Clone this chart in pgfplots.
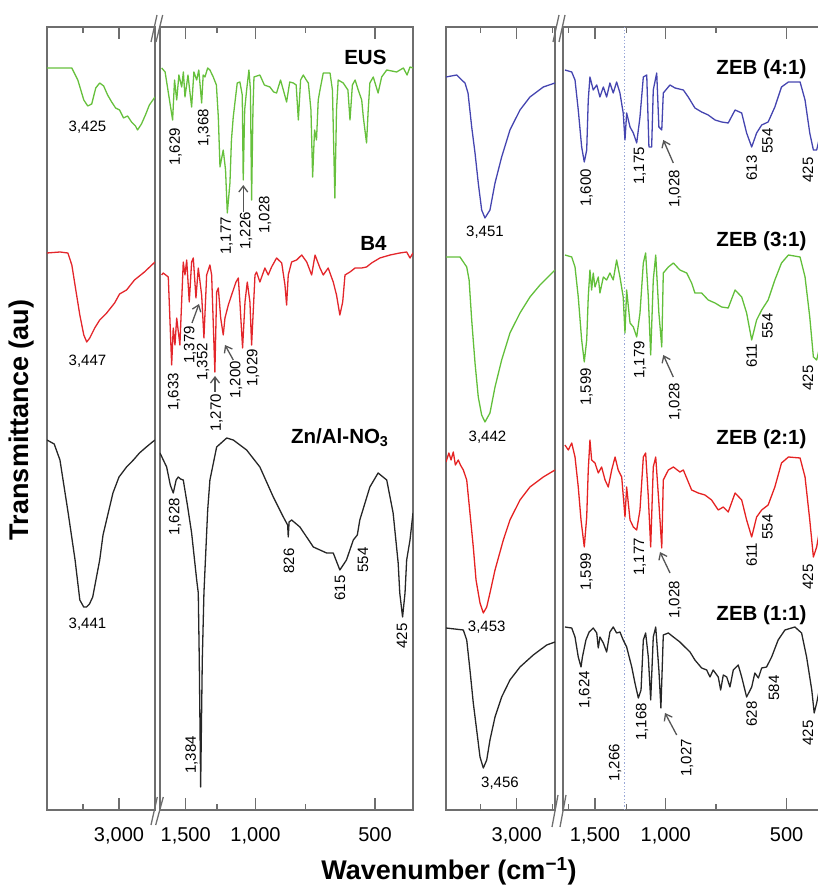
\documentclass[border=0pt]{standalone}
\usepackage{fontspec}
\setmainfont{Liberation Sans}
\usepackage{pgfplots}
\pgfplotsset{compat=1.18}
\usetikzlibrary{arrows.meta}
\definecolor{framegray}{HTML}{6E6E6E}
\definecolor{arrowgray}{HTML}{555555}
\definecolor{eusgreen}{HTML}{66C03C}
\definecolor{bred}{HTML}{E3262B}
\definecolor{specblack}{HTML}{262626}
\definecolor{zblue}{HTML}{4545B0}
\definecolor{zgreen}{HTML}{62BF3A}
\definecolor{zred}{HTML}{E52222}
\definecolor{dotblue}{HTML}{9AA8D8}
\pgfplotsset{
  ftir/.style={
    scale only axis, anchor=south west, height=783pt,
    ymin=0, ymax=783, ytick=\empty, x dir=reverse,
    axis line style={framegray, line width=1.6pt},
    tick style={framegray, line width=1.2pt},
    major tick length=12pt, minor tick length=6pt,
    xtick pos=both,
    xticklabel style={font=\fontsize{20}{24}\selectfont, yshift=-14pt},
    every axis plot/.append style={line width=1.3pt, line join=round},
  }
}
\tikzset{
  pk/.style={font=\fontsize{15}{18}\selectfont},
  pkr/.style={font=\fontsize{15}{18}\selectfont, rotate=90},
  ttl/.style={font=\fontsize{20.5}{24}\selectfont\bfseries, anchor=east},
  arr/.style={arrowgray, line width=1.3pt, -{Straight Barb[length=6pt,width=9pt]}},
  brk/.style={framegray, line width=1.3pt},
}
\begin{document}
\begin{tikzpicture}[x=1pt,y=1pt]
\path[use as bounding box] (0,0) rectangle (817,886);

% ---------------- left panel, high wavenumbers
\begin{axis}[ftir, at={(47pt,76pt)}, width=108pt, xmin=2500, xmax=4000,
  xtick={3000}, xticklabels={3{,}000}, minor xtick={3500}]
\addplot[eusgreen] coordinates {(4000,742)(3655,742)(3572,730)(3489,710)(3434,704)(3379,706)(3323,722)(3268,727)(3213,724)(3158,715)(3102,708)(3047,702)(2992,700)(2937,692)(2881,694)(2826,688)(2771,684)(2743,680)(2688,686)(2633,695)(2578,705)(2500,713)};
\addplot[bred] coordinates {(4000,557)(3820,558)(3710,557)(3655,545)(3600,520)(3544,495)(3489,475)(3448,468)(3406,472)(3337,482)(3268,490)(3171,497)(3061,507)(2992,516)(2895,520)(2785,530)(2647,538)(2500,548)};
\addplot[specblack] coordinates {(4000,370)(3900,366)(3820,350)(3706,297)(3610,250)(3544,210)(3490,203)(3452,203)(3410,206)(3365,213)(3268,250)(3222,275)(3084,317)(3000,333)(2895,343)(2800,350)(2716,357)(2620,363)(2536,368)(2500,370)};
\end{axis}

% ---------------- left panel, low wavenumbers
\begin{axis}[ftir, at={(160pt,76pt)}, width=253pt, xmode=log, xmin=401, xmax=1741,
  xtick={500,1000,1500}, xticklabels={500,{1,000},{1,500}}, minor xtick={750,1250}]
\addplot[eusgreen] coordinates {(1724,742)(1690,738)(1618,690)(1600,730)(1580,710)(1560,735)(1535,723)(1520,738)(1506,713)(1480,735)(1449,703)(1430,738)(1407,730)(1390,740)(1367,707)(1355,735)(1341,733)(1320,742)(1303,740)(1278,733)(1255,725)(1241,693)(1229,643)(1206,660)(1190,640)(1178,597)(1160,627)(1150,670)(1138,693)(1112,727)(1095,728)(1080,715)(1074,630)(1065,700)(1053,720)(1039,740)(1030,720)(1023,610)(1015,700)(1009,733)(975,735)(950,725)(920,723)(900,718)(885,717)(865,730)(851,720)(835,708)(820,728)(803,727)(790,725)(780,690)(770,730)(758,735)(745,730)(736,727)(725,700)(718,633)(710,680)(702,670)(695,710)(688,720)(675,737)(649,737)(640,720)(631,612)(625,700)(619,730)(601,727)(585,720)(578,690)(570,725)(561,730)(551,720)(540,710)(535,693)(525,667)(520,700)(515,727)(505,733)(491,717)(481,733)(467,740)(441,738)(424,742)(415,735)(408,743)(401,742)};
\addplot[bred] coordinates {(1724,535)(1709,537)(1659,533)(1627,445)(1612,482)(1596,465)(1580,492)(1551,465)(1521,548)(1506,535)(1491,550)(1469,508)(1449,548)(1435,552)(1413,512)(1394,542)(1367,515)(1349,472)(1328,535)(1303,545)(1290,535)(1266,438)(1253,518)(1241,522)(1224,492)(1206,475)(1194,492)(1171,505)(1149,515)(1120,528)(1105,532)(1095,508)(1078,462)(1063,508)(1049,528)(1033,508)(1023,465)(1003,535)(994,538)(975,528)(947,542)(929,535)(911,543)(885,552)(859,547)(843,525)(835,505)(827,535)(811,548)(788,550)(765,555)(743,548)(722,535)(708,555)(688,542)(675,535)(656,542)(637,528)(625,515)(613,495)(603,508)(595,535)(578,538)(561,542)(540,542)(525,543)(510,547)(486,552)(458,555)(433,557)(416,558)(408,552)(401,557)};
\addplot[specblack] coordinates {(1741,357)(1675,343)(1640,325)(1612,317)(1585,330)(1566,333)(1545,331)(1521,330)(1485,305)(1449,277)(1407,230)(1394,217)(1386,150)(1375,23)(1362,150)(1349,217)(1341,240)(1320,300)(1303,330)(1253,363)(1182,372)(1138,370)(1053,360)(975,343)(902,313)(851,293)(830,285)(827,273)(823,288)(811,290)(773,283)(715,263)(662,257)(637,257)(613,240)(590,250)(567,270)(554,275)(546,290)(515,323)(491,337)(467,330)(450,297)(437,247)(433,217)(426,193)(420,217)(416,250)(408,270)(401,297)};
\end{axis}

% ---------------- right panel, high wavenumbers
\begin{axis}[ftir, at={(446pt,76pt)}, width=109pt, xmin=2470, xmax=3980,
  xtick={3000}, xticklabels={3{,}000}, minor xtick={2500,3500}]
\addplot[zblue] coordinates {(3980,733)(3832,735)(3763,730)(3717,727)(3675,717)(3624,683)(3578,657)(3533,627)(3486,600)(3440,592)(3371,600)(3301,627)(3209,653)(3094,680)(2955,700)(2817,713)(2632,723)(2470,727)};
\addplot[zgreen] coordinates {(3980,553)(3786,553)(3693,543)(3660,530)(3624,490)(3578,447)(3533,413)(3486,395)(3440,388)(3371,397)(3301,423)(3209,450)(3094,477)(2955,497)(2817,513)(2678,525)(2470,540)};
\addplot[zred] coordinates {(3980,348)(3940,357)(3910,350)(3879,358)(3850,345)(3810,350)(3780,345)(3740,340)(3693,330)(3648,297)(3602,263)(3564,230)(3509,207)(3463,197)(3416,203)(3371,217)(3301,240)(3186,270)(3094,290)(2955,310)(2817,323)(2632,333)(2470,340)};
\addplot[specblack] coordinates {(3980,182)(3740,180)(3693,170)(3648,140)(3602,107)(3555,80)(3509,53)(3463,42)(3416,50)(3371,70)(3301,93)(3209,113)(3094,130)(2955,143)(2771,155)(2585,165)(2470,168)};
\end{axis}

% ---------------- right panel, low wavenumbers
\begin{axis}[ftir, at={(563pt,76pt)}, width=262.6pt, xmode=log, xmin=400, xmax=1802,
  xtick={500,1000,1500}, xticklabels={500,{1,000},{1,500}}, minor xtick={750,1250,1750}]
\addplot[dotblue, dotted, line width=0.9pt] coordinates {(1266,0)(1266,783)};
\addplot[zblue] coordinates {(1782,740)(1714,738)(1682,730)(1651,700)(1619,663)(1595,648)(1573,660)(1559,710)(1544,733)(1515,720)(1485,725)(1458,713)(1430,723)(1403,713)(1377,727)(1351,717)(1325,728)(1300,717)(1276,697)(1263,670)(1251,697)(1227,683)(1204,677)(1181,667)(1159,693)(1137,733)(1115,735)(1101,663)(1084,663)(1074,720)(1053,737)(1040,683)(1023,680)(1014,717)(976,725)(948,722)(904,720)(879,713)(846,702)(814,698)(784,695)(754,690)(726,688)(699,687)(672,700)(647,697)(629,677)(611,663)(594,677)(577,685)(556,688)(535,703)(515,723)(495,728)(463,728)(450,710)(438,677)(429,660)(421,660)(410,680)};
\addplot[zgreen] coordinates {(1782,555)(1714,553)(1682,543)(1651,513)(1619,470)(1595,448)(1573,470)(1559,513)(1544,540)(1529,520)(1515,537)(1500,523)(1472,533)(1458,517)(1430,533)(1403,530)(1377,537)(1351,530)(1325,550)(1300,533)(1276,513)(1263,477)(1251,520)(1227,487)(1204,483)(1181,473)(1159,497)(1137,547)(1122,557)(1105,513)(1090,455)(1074,530)(1059,555)(1040,497)(1023,463)(1014,537)(985,543)(957,547)(922,540)(887,537)(862,527)(846,517)(814,517)(784,510)(754,507)(726,503)(699,502)(672,520)(647,513)(629,497)(611,470)(594,490)(577,500)(556,510)(535,530)(515,547)(495,555)(463,553)(450,533)(438,493)(429,453)(421,450)(410,470)};
\addplot[zred] coordinates {(1782,365)(1748,360)(1714,367)(1682,353)(1651,323)(1625,290)(1595,263)(1573,293)(1559,340)(1544,370)(1529,350)(1500,347)(1472,337)(1444,343)(1416,330)(1390,323)(1363,340)(1337,353)(1313,340)(1287,333)(1263,293)(1251,323)(1227,290)(1204,283)(1181,280)(1159,300)(1137,353)(1122,357)(1105,313)(1090,263)(1074,343)(1059,353)(1040,307)(1023,262)(1014,330)(985,340)(957,343)(922,338)(904,340)(887,332)(862,320)(830,317)(799,315)(769,310)(740,300)(719,303)(699,298)(672,317)(647,310)(629,290)(611,273)(594,293)(577,300)(556,305)(535,323)(515,347)(495,353)(463,352)(450,333)(438,290)(429,253)(421,263)(410,290)};
\addplot[specblack] coordinates {(1782,183)(1714,182)(1682,173)(1651,153)(1625,143)(1612,153)(1580,170)(1551,178)(1515,182)(1485,177)(1472,162)(1458,173)(1430,167)(1403,158)(1377,178)(1351,183)(1325,177)(1300,178)(1276,170)(1251,163)(1215,143)(1193,127)(1170,112)(1152,120)(1137,170)(1122,177)(1105,153)(1090,110)(1074,173)(1059,183)(1040,140)(1028,102)(1014,175)(985,177)(957,173)(922,168)(896,163)(870,158)(846,150)(814,142)(791,140)(776,133)(762,140)(740,133)(730,120)(719,135)(705,133)(692,123)(679,140)(660,145)(647,133)(629,113)(611,123)(600,137)(588,132)(577,142)(561,143)(545,153)(525,170)(505,180)(477,183)(459,177)(446,153)(433,120)(427,97)(421,107)(410,130)};
\end{axis}

% axis breaks
\draw[brk] (151,844) -- (157,871); \draw[brk] (156,844) -- (162.7,871);
\draw[brk] (151,61) -- (157.3,89); \draw[brk] (155.7,61) -- (163.3,89);
\draw[brk] (553,844) -- (559,871); \draw[brk] (559,844) -- (565,871);
\draw[brk] (552,59) -- (558,91); \draw[brk] (560,59) -- (566,91);

% axis titles
\node[font=\fontsize{27}{32}\selectfont\bfseries, rotate=90] at (22,466) {Transmittance (au)};
\node[font=\fontsize{27}{32}\selectfont\bfseries] at (449,15) {Wavenumber (cm\textsuperscript{−1})};

% sample names
\node[ttl] at (390,829) {EUS};
\node[ttl] at (390,643) {B4};
\node[ttl] at (392,448) {Zn/Al-NO\textsubscript{3}};
\node[ttl] at (810,817) {ZEB (4:1)};
\node[ttl] at (810,645) {ZEB (3:1)};
\node[ttl] at (810,447) {ZEB (2:1)};
\node[ttl] at (810,271) {ZEB (1:1)};

% peak labels, left panel
\node[pk] at (87.5,759) {3,425};
\node[pkr] at (175.7,739) {1,629};
\node[pkr] at (204,758) {1,368};
\node[pkr] at (226.7,650) {1,177};
\node[pkr] at (246,655) {1,226};
\node[pkr] at (265,671) {1,028};
\draw[arr] (243.3,674) -- (243.3,701);
\node[pk] at (87.5,525) {3,447};
\node[pkr] at (174,494) {1,633};
\node[pkr] at (190,541) {1,379};
\draw[arr] (192,563) -- (199,582);
\node[pkr] at (203,524) {1,352};
\node[pkr] at (216.7,473) {1,270};
\draw[arr] (215,494) -- (215,510);
\node[pkr] at (236,506) {1,200};
\draw[arr] (233.3,526) -- (225,541);
\node[pkr] at (253,518) {1,029};
\node[pkr] at (175,369) {1,628};
\node[pkr] at (289,325) {826};
\node[pkr] at (340,298) {615};
\node[pkr] at (363,326) {554};
\node[pkr] at (402,250) {425};
\node[pk] at (87.5,262) {3,441};
\node[pkr] at (191.7,131) {1,384};

% peak labels, right panel
\node[pk] at (485,654) {3,451};
\node[pkr] at (586.7,698) {1,600};
\node[pkr] at (640,720) {1,175};
\node[pkr] at (675,697) {1,028};
\draw[arr] (673.3,723) -- (663.3,746);
\node[pkr] at (751.7,718) {613};
\node[pkr] at (767.5,745) {554};
\node[pkr] at (808,716) {425};
\node[pk] at (487.5,449) {3,442};
\node[pkr] at (586.7,499) {1,599};
\node[pkr] at (640,526) {1,179};
\node[pkr] at (675,484) {1,028};
\draw[arr] (673.3,509) -- (663.3,531);
\node[pkr] at (751.7,530) {611};
\node[pkr] at (767.5,560) {554};
\node[pkr] at (808,508) {425};
\node[pkr] at (586.7,314) {1,599};
\node[pkr] at (640,329) {1,177};
\node[pkr] at (675,286) {1,028};
\draw[arr] (670,313) -- (660,334);
\node[pkr] at (751.7,331) {611};
\node[pkr] at (767.5,359) {554};
\node[pkr] at (808,309) {425};
\node[pk] at (486.7,259) {3,453};
\node[pkr] at (585,196) {1,624};
\node[pkr] at (642,164) {1,168};
\node[pkr] at (615,123) {1,266};
\node[pkr] at (687,128) {1,027};
\draw[arr] (676.7,151) -- (665,173);
\node[pkr] at (751.7,172) {628};
\node[pkr] at (774,198) {584};
\node[pkr] at (808,153) {425};
\node[pk] at (500,103) {3,456};
\end{tikzpicture}
\end{document}
